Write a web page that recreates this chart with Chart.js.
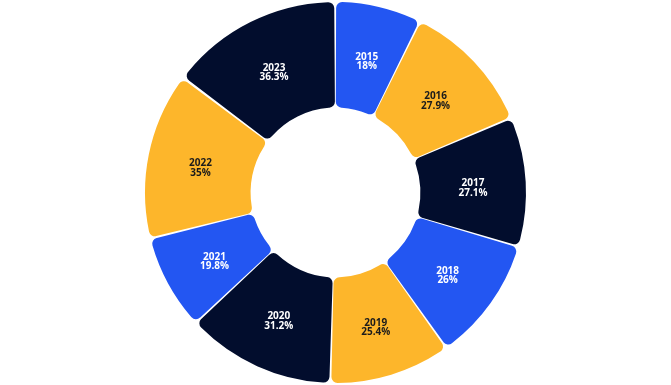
<!DOCTYPE html>
<html>
<head>
<meta charset="utf-8">
<script src="https://cdn.jsdelivr.net/npm/chart.js@4.4.1/dist/chart.umd.min.js"></script>
<style>
  html, body { margin: 0; padding: 0; background: #ffffff; }
  #wrap { width: 671px; height: 385px; position: relative; }
</style>
</head>
<body>
<div id="wrap"><canvas id="c"></canvas></div>
<script>
const years = ['2015', '2016', '2017', '2018', '2019', '2020', '2021', '2022', '2023'];
const shares = [18, 27.9, 27.1, 26, 25.4, 31.2, 19.8, 35, 36.3];
const palette = ['#2356F2', '#FDB62B', '#020D2D'];
const labelInk = ['#ffffff', '#1b1b1b', '#ffffff'];

const sliceColors = years.map((_, i) => palette[i % 3]);
const textColors = years.map((_, i) => labelInk[i % 3]);

const sliceLabels = {
  id: 'sliceLabels',
  afterDatasetsDraw(chart) {
    const ctx = chart.ctx;
    const meta = chart.getDatasetMeta(0);
    ctx.save();
    ctx.font = 'bold 10px "Open Sans", "DejaVu Sans", sans-serif';
    ctx.textAlign = 'center';
    ctx.textBaseline = 'middle';
    meta.data.forEach((arc, i) => {
      const p = arc.tooltipPosition();
      ctx.fillStyle = textColors[i];
      ctx.fillText(years[i], p.x, p.y - 1.5);
      ctx.fillText(shares[i] + '%', p.x, p.y + 8);
    });
    ctx.restore();
  }
};

new Chart(document.getElementById('c'), {
  type: 'doughnut',
  data: {
    labels: years,
    datasets: [{
      data: shares,
      backgroundColor: sliceColors,
      borderWidth: 0,
      spacing: 4,
      borderRadius: 6
    }]
  },
  options: {
    responsive: true,
    maintainAspectRatio: false,
    animation: false,
    cutout: '44%',
    layout: { padding: 2 },
    plugins: {
      legend: { display: false },
      tooltip: { enabled: false }
    }
  },
  plugins: [sliceLabels]
});
</script>
</body>
</html>
